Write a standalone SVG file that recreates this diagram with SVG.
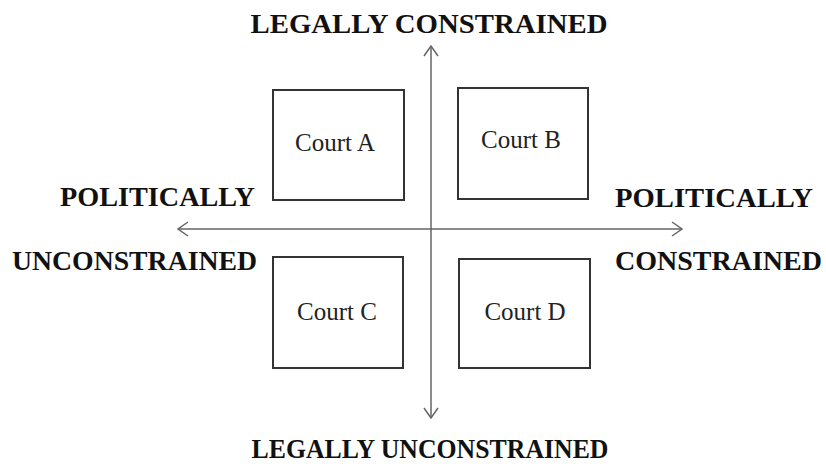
<svg xmlns="http://www.w3.org/2000/svg" width="826" height="468" viewBox="0 0 826 468">
<defs>
<style>
.lbl{font-family:"Liberation Serif","Times New Roman",serif;font-weight:bold;font-size:27.5px;fill:#111}
.court{font-family:"Liberation Serif","Times New Roman",serif;font-size:25px;fill:#222}
.box{fill:#fff;stroke:#333;stroke-width:2}
.axis{stroke:#666;stroke-width:1.5;fill:none}
</style>
<marker id="chev" viewBox="0 0 12 16" refX="11" refY="8" markerWidth="12" markerHeight="16" markerUnits="userSpaceOnUse" orient="auto-start-reverse">
<path d="M1,1 L11,8 L1,15" fill="none" stroke="#666" stroke-width="1.5"/>
</marker>
</defs>
<rect width="826" height="468" fill="#fff"/>
<g id="connectors">
<line class="axis" x1="431" y1="418" x2="431" y2="46" marker-end="url(#chev)" marker-start="url(#chev)"/>
<line class="axis" x1="178" y1="229" x2="682" y2="229" marker-end="url(#chev)" marker-start="url(#chev)"/>
</g>
<g id="courtA"><rect class="box" x="273" y="90" width="131" height="110"/><text class="court" x="335" y="151" text-anchor="middle">Court A</text></g>
<g id="courtB"><rect class="box" x="458" y="88" width="130" height="111"/><text class="court" x="521" y="148" text-anchor="middle">Court B</text></g>
<g id="courtC"><rect class="box" x="273" y="257" width="130" height="111"/><text class="court" x="337" y="320" text-anchor="middle">Court C</text></g>
<g id="courtD"><rect class="box" x="459" y="259" width="131" height="109"/><text class="court" x="525" y="320" text-anchor="middle">Court D</text></g>
<g id="labels">
<text class="lbl" x="429" y="33" text-anchor="middle" textLength="357" lengthAdjust="spacingAndGlyphs">LEGALLY CONSTRAINED</text>
<text class="lbl" x="430" y="458" text-anchor="middle" textLength="357" lengthAdjust="spacingAndGlyphs">LEGALLY UNCONSTRAINED</text>
<text class="lbl" x="60" y="206" textLength="195" lengthAdjust="spacingAndGlyphs">POLITICALLY</text>
<text class="lbl" x="12" y="270" textLength="245" lengthAdjust="spacingAndGlyphs">UNCONSTRAINED</text>
<text class="lbl" x="615" y="207" textLength="198" lengthAdjust="spacingAndGlyphs">POLITICALLY</text>
<text class="lbl" x="615" y="270" textLength="207" lengthAdjust="spacingAndGlyphs">CONSTRAINED</text>
</g>
</svg>
